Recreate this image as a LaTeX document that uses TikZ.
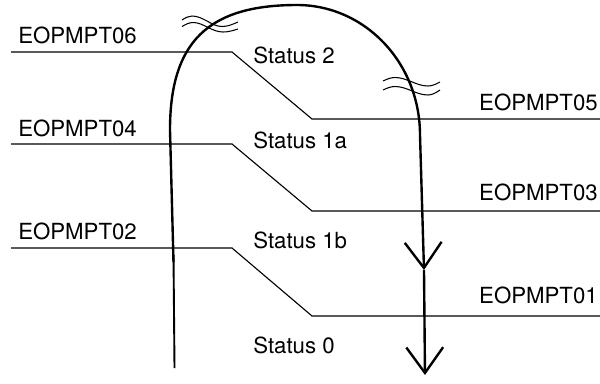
\documentclass[tikz,border=0pt]{standalone}
\usepackage{fontspec}
\setmainfont{TeX Gyre Heros}
\usepackage{tikz}
\usetikzlibrary{arrows.meta}

\begin{document}
\begin{tikzpicture}[
  x=0.025cm, y=-0.025cm,
  tag/.style={font=\fontsize{15.8}{18}\selectfont, inner sep=0pt},
  boundary/.style={line width=0.8pt},
  flow/.style={line width=1.7pt,
               -{Straight Barb[length=0.64cm, width=0.92cm, line width=1.7pt]}},
  breakmark/.style={line width=0.75pt}
]
  \useasboundingbox (0,0) rectangle (600,383);

  % point labels
  \node[tag, anchor=base west] (pt06) at (18,43) {EOPMPT06};
  \node[tag, anchor=base west] (pt04) at (18,136) {EOPMPT04};
  \node[tag, anchor=base west] (pt02) at (18,239.5) {EOPMPT02};
  \node[tag, anchor=base east] (pt05) at (598,110) {EOPMPT05};
  \node[tag, anchor=base east] (pt03) at (598,200) {EOPMPT03};
  \node[tag, anchor=base east] (pt01) at (598,303) {EOPMPT01};

  % status labels
  \node[tag, anchor=base west] (st2)  at (253,63)  {Status 2};
  \node[tag, anchor=base west] (st1a) at (253,148) {Status 1a};
  \node[tag, anchor=base west] (st1b) at (253,248) {Status 1b};
  \node[tag, anchor=base west] (st0)  at (253,353) {Status 0};

  % boundaries
  \draw[boundary] (11,52)  -- (232,52)  -- (312,119) -- (600,119);
  \draw[boundary] (11,144) -- (232,144) -- (312,211) -- (600,211);
  \draw[boundary] (11,248) -- (232,248) -- (312,316) -- (600,316);

  % flow
  \coordinate (mid) at (424,270);
  \draw[line width=1.35pt] (173.5,255) -- (174.5,368);
  \draw[flow] (173.5,262) -- (170,130)
    .. controls (170,42) and (208,5) .. (297,5)
    .. controls (365,5) and (420,63) .. (420,135) -- (mid);
  \draw[flow] (mid) -- (425,375);

  % break marks
  \draw[breakmark] (182,20) sin (192,16) cos (207,21) sin (222,26.5) cos (238,22);
  \draw[breakmark] (182,26.5) sin (193,22.5) cos (208,27.5) sin (223,32) cos (238,29);
  \draw[breakmark] (383,81) sin (395,77.5) cos (411,81.5) sin (428,86) cos (440,82);
  \draw[breakmark] (383,90) sin (395,86.5) cos (411,90.5) sin (428,95) cos (440,90);
\end{tikzpicture}
\end{document}
